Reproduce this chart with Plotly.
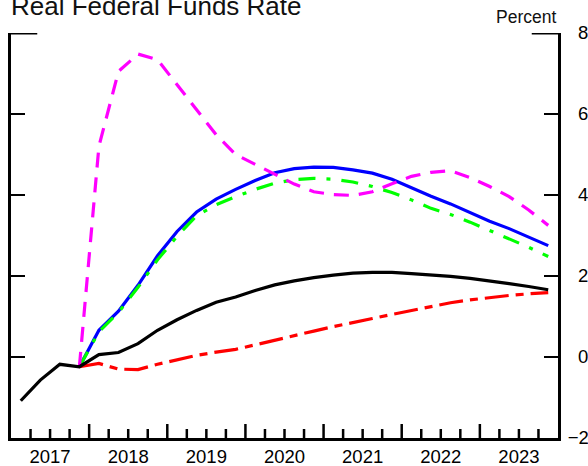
import plotly.graph_objects as go

# Quarterly periods, 2017Q1 through 2023Q4
quarters = [f"{y}Q{q}" for y in range(2017, 2024) for q in range(1, 5)]
forecast_start = "2017Q4"

# Real federal funds rate, percent
baseline = [-1.08, -0.57, -0.18, -0.24, 0.06, 0.11, 0.33, 0.66, 0.92, 1.15,
            1.35, 1.48, 1.64, 1.78, 1.88, 1.96, 2.02, 2.07, 2.09, 2.09,
            2.06, 2.03, 1.99, 1.94, 1.88, 1.81, 1.74, 1.66]
# Alternative paths, starting at the last observed quarter
path_red = [-0.24, -0.16, -0.30, -0.31, -0.18, -0.07, 0.04, 0.12, 0.19, 0.30,
            0.42, 0.53, 0.64, 0.75, 0.86, 0.95, 1.05, 1.15, 1.26, 1.34,
            1.41, 1.47, 1.52, 1.56, 1.59]
path_blue = [-0.24, 0.66, 1.13, 1.77, 2.50, 3.10, 3.58, 3.90, 4.14, 4.36,
             4.55, 4.65, 4.69, 4.68, 4.62, 4.54, 4.39, 4.17, 3.97, 3.78,
             3.57, 3.35, 3.17, 2.97, 2.75]
path_green = [-0.24, 0.62, 1.10, 1.72, 2.40, 2.98, 3.49, 3.76, 3.96, 4.14,
              4.29, 4.38, 4.41, 4.39, 4.32, 4.21, 4.06, 3.88, 3.67, 3.52,
              3.33, 3.13, 2.93, 2.71, 2.48]
path_magenta = [-0.24, 5.20, 7.05, 7.48, 7.34, 6.72, 6.11, 5.49, 5.00, 4.76,
                4.52, 4.27, 4.08, 4.01, 3.99, 4.08, 4.28, 4.46, 4.56, 4.60,
                4.43, 4.21, 3.96, 3.63, 3.25]

years = list(range(2017, 2024))
year_labels = [str(y) for y in years]
y_ticks = [-2, 0, 2, 4, 6, 8]
y_tick_labels = ["\u22122", "\u20070", "\u20072", "\u20074", "\u20076", "\u20078"]


def mid_quarter(label):
    y, q = label.split("Q")
    return int(y) + (int(q) - 0.5) / 4


def quarter_start(label):
    y, q = label.split("Q")
    return int(y) + (int(q) - 1) / 4


x_all = [mid_quarter(q) for q in quarters]
x_fc = x_all[quarters.index(forecast_start):]
xrange = [years[0], years[-1] + 1]

FONT = "Liberation Sans, Arial, sans-serif"
PLOT_H = 466 - 33 - 27.5              # plot-area height in px

fig = go.Figure()
fig.add_trace(go.Scatter(x=x_fc, y=path_blue, mode="lines",
                         line=dict(color="#0000ff", width=3.2)))
fig.add_trace(go.Scatter(x=x_fc, y=path_green, mode="lines",
                         line=dict(color="#00ff00", width=3.2,
                                   dash="17px,11px,4px,11px")))
fig.add_trace(go.Scatter(x=x_fc, y=path_red, mode="lines",
                         line=dict(color="#ff0000", width=3.2,
                                   dash="24px,7px,8px,7px")))
fig.add_trace(go.Scatter(x=x_fc, y=path_magenta, mode="lines",
                         line=dict(color="#ff00ff", width=3.2,
                                   dash="15px,10px")))
fig.add_trace(go.Scatter(x=x_all, y=baseline, mode="lines",
                         line=dict(color="#000000", width=3.2)))

fig.update_layout(
    template="none",
    width=588, height=466,
    margin=dict(l=10.5, r=29.5, t=33, b=27.5),
    paper_bgcolor="white", plot_bgcolor="white",
    showlegend=False,
    font=dict(family=FONT, size=18.5, color="#000000"),
    # year labels centred on each year
    xaxis=dict(
        range=xrange, showgrid=False, zeroline=False, automargin=False,
        showline=True, linecolor="black", linewidth=3,
        tickmode="array", tickvals=[y + 0.5 for y in years],
        ticktext=year_labels, ticks="", ticklabelstandoff=0,
        tickfont=dict(size=18.5, family=FONT, color="black"),
    ),
    yaxis=dict(
        range=[y_ticks[0], y_ticks[-1]], side="right", mirror="ticks",
        showgrid=False, zeroline=False, automargin=False,
        showline=True, linecolor="black", linewidth=3,
        tickmode="array", tickvals=y_ticks, ticktext=y_tick_labels,
        ticks="inside", ticklen=14, tickwidth=2, tickcolor="black",
        ticklabelstandoff=3,
        tickfont=dict(size=18.5, family=FONT, color="black"),
    ),
)

# quarter tick marks on the bottom axis, longer at year boundaries,
# placed in paper units so they are not clipped to the plot area
span = xrange[1] - xrange[0]
for q in quarters[1:]:
    xp = (quarter_start(q) - xrange[0]) / span
    length = 14 if q.endswith("Q1") else 9
    fig.add_shape(type="line", xref="paper", yref="paper", layer="above",
                  x0=xp, x1=xp, y0=-2 / PLOT_H, y1=length / PLOT_H,
                  line=dict(color="black", width=2.5))

# longer end marks at the top of both vertical axes
for x0, x1 in [(0, 0.048), (0.952, 1)]:
    fig.add_shape(type="line", xref="x domain", yref="y",
                  x0=x0, x1=x1, y0=y_ticks[-1], y1=y_ticks[-1],
                  line=dict(color="black", width=3))

fig.add_annotation(text="Real Federal Funds Rate", xref="paper", yref="paper",
                   x=-0.003, y=1.0, xanchor="left", yanchor="bottom",
                   yshift=10, showarrow=False,
                   font=dict(size=26, family=FONT, color="#111111"))
fig.add_annotation(text="Percent", xref="paper", yref="paper",
                   x=1.0, y=1.0, xanchor="right", yanchor="bottom",
                   yshift=4, showarrow=False,
                   font=dict(size=17.5, family=FONT, color="#111111"))

fig.write_html("out.html")
